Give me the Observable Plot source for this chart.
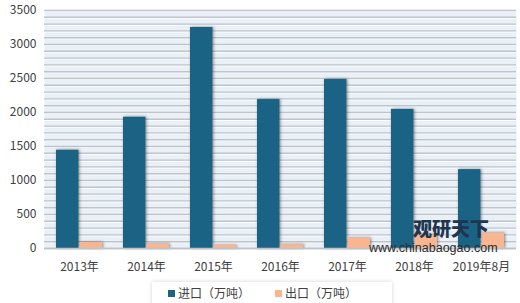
<!DOCTYPE html>
<html>
<head>
<meta charset="utf-8">
<script src="https://cdn.jsdelivr.net/npm/d3@7"></script>
<script src="https://cdn.jsdelivr.net/npm/@observablehq/plot@0.6"></script>
<style>
  html, body { margin: 0; padding: 0; background: #ffffff; }
  body { width: 520px; height: 303px; position: relative; overflow: hidden;
         font-family: "Noto Sans CJK SC", "Noto Sans", sans-serif; }
  #chart svg g[aria-label="bar"] rect { filter: drop-shadow(1px 0px 1.5px rgba(0,0,0,0.45)); }
  #legend { position: absolute; left: 152px; top: 282px; width: 240px; height: 30px;
            background: #fff; box-shadow: 0 0 4px rgba(0,0,0,0.18);
            font-size: 12px; color: #404040; }
  #legend .item { position: absolute; top: 3px; white-space: nowrap; line-height: 16px; }
  #legend .sw { display: inline-block; width: 7px; height: 7px; margin-right: 3px; vertical-align: 1px; }
  #wm { position: absolute; left: 369px; top: 218px; pointer-events: none; }
  #wm .t1 { position: absolute; left: 44px; top: 0px; font-size: 19px; font-weight: 900;
            color: #1f3550; white-space: nowrap; line-height: 20px; }
  #wm .t2 { position: absolute; left: 0px; top: 24px; font-family: "Liberation Sans", Arial, sans-serif;
            font-size: 12.5px; color: #2a2a2a; white-space: nowrap; line-height: 12px; }
</style>
</head>
<body>
<div id="chart"></div>
<div id="legend"></div>
<div id="wm"><span class="t1">观研天下</span><span class="t2">www.chinabaogao.com</span></div>
<script>
const years = ["2013年", "2014年", "2015年", "2016年", "2017年", "2018年", "2019年8月"];
const importVals = [1445, 1930, 3250, 2190, 2485, 2045, 1160];
const exportVals = [88, 65, 45, 55, 150, 200, 225];
const seriesNames = ["进口（万吨）", "出口（万吨）"];
const seriesColors = ["#1b6385", "#f8b590"];
const yTicks = [0, 500, 1000, 1500, 2000, 2500, 3000, 3500];
const gridStep = 100;

const importData = years.map((y, i) => ({year: y, value: importVals[i]}));
const exportData = years.map((y, i) => ({year: y, value: exportVals[i]}));
const grid = d3.range(0, 3500 + gridStep, gridStep);

const chart = Plot.plot({
  width: 520,
  height: 280,
  marginLeft: 44,
  marginRight: 4,
  marginTop: 10,
  marginBottom: 32,
  style: {fontFamily: '"Noto Sans CJK SC", "Noto Sans", sans-serif', fontSize: "12px", color: "#404040", background: "#ffffff"},
  x: {domain: years, paddingInner: 0.31, paddingOuter: 0.155, label: null},
  y: {domain: [0, 3500], label: null},
  marks: [
    Plot.frame({fill: "#e9f0f7", stroke: null}),
    Plot.ruleY(grid, {y: d => d, stroke: "#ffffff", strokeWidth: 1, dy: 1}),
    Plot.ruleY(grid, {y: d => d, stroke: "#bfc4c9", strokeWidth: 1.4}),
    Plot.barY(importData, {x: "year", y: "value", fill: seriesColors[0], insetRight: 23.6, insetLeft: 0}),
    Plot.barY(exportData, {x: "year", y: "value", fill: seriesColors[1], insetLeft: 23.6, insetRight: 0}),
    Plot.ruleY([0], {stroke: "#bfc3c7", strokeWidth: 1.5}),
    Plot.axisY({ticks: yTicks, tickFormat: d3.format("d"), tickSize: 0, tickPadding: 8, fontSize: 12, label: null}),
    Plot.axisX({tickSize: 0, tickPadding: 14, fontSize: 12, label: null})
  ]
});
document.getElementById("chart").appendChild(chart);

const legend = document.getElementById("legend");
const lefts = [16, 123];
seriesNames.forEach((name, i) => {
  const it = document.createElement("div");
  it.className = "item";
  it.style.left = lefts[i] + "px";
  it.innerHTML = `<span class="sw" style="background:${seriesColors[i]}"></span>${name}`;
  legend.appendChild(it);
});
</script>
</body>
</html>
